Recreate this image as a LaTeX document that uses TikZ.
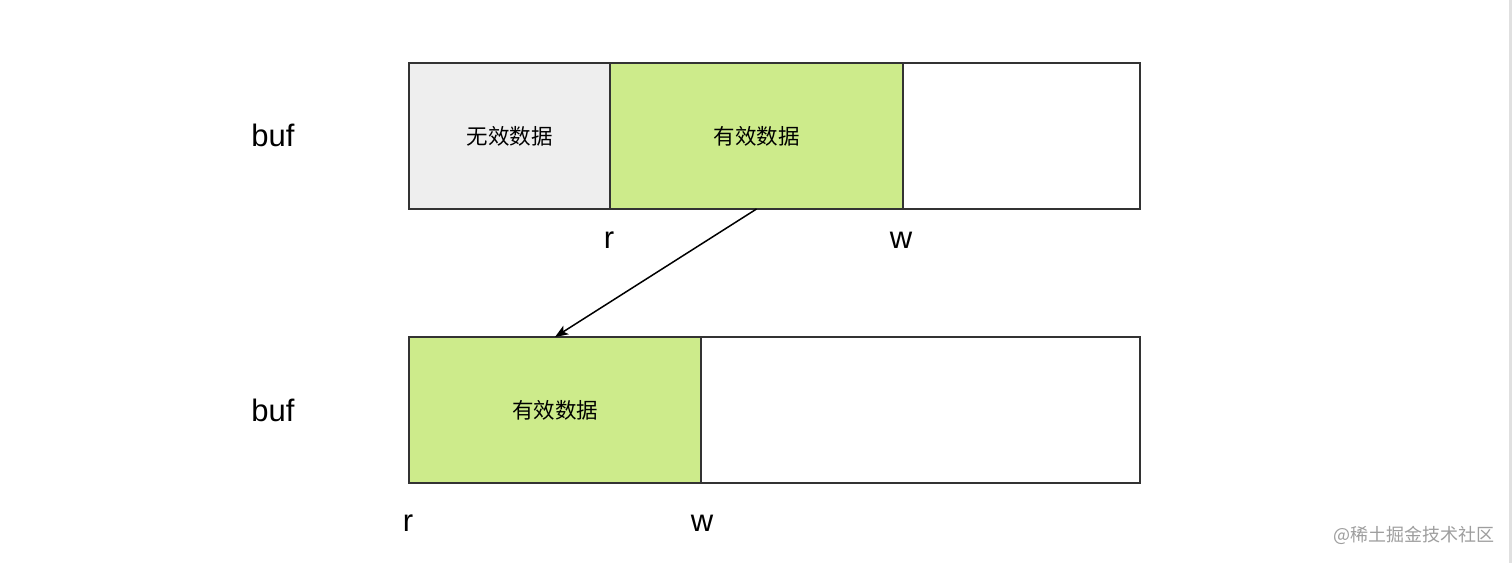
\documentclass[tikz,border=0pt]{standalone}
\usepackage{fontspec}
\setmainfont{Liberation Sans}
\newfontfamily\cjk{Noto Sans CJK SC}
\usetikzlibrary{
  arrows.meta, % For arrow tips
  positioning
}
\definecolor{validgreen}{HTML}{CDEB8B}
\definecolor{invalidgray}{HTML}{EEEEEE}
\definecolor{edgegray}{HTML}{333333}

\begin{document}
\begin{tikzpicture}[
      x=1pt, y=-1pt,
      >=Stealth, % Default arrow tip
      cell/.style={draw=edgegray, line width=1.5pt, anchor=north west, outer sep=0pt,
        minimum height=146pt, inner sep=0pt, font=\cjk\fontsize{21.5}{24}\selectfont},
      ptr/.style={font=\fontsize{31}{36}\selectfont, inner sep=0pt}, % r, w, buf
      move/.style={black, line width=1.5pt, -{Stealth[length=13pt, width=10pt, inset=3pt]}},
    ]

    % Rahmen
    \useasboundingbox[fill=white] (0,0) rectangle (1512,563);
    \fill[black!12] (1509,0) rectangle (1512,563);

    % Größen
    \def\wdead{201}
    \def\wlive{293}

    % buf vorher
    \node[cell, fill=invalidgray, minimum width=\wdead pt] (dead) at (409,63) {无效数据};
    \node[cell, fill=validgreen, minimum width=\wlive pt] (live) at (dead.north east) {有效数据};
    \node[cell, fill=white, minimum width=237pt] (free) at (live.north east) {};

    % buf nachher
    \node[cell, fill=validgreen, minimum width=292pt] (moved) at (409,337) {有效数据};
    \node[cell, fill=white, minimum width=439pt] (rest) at (moved.north east) {};

    % Beschriftungen
    \node[ptr] (buf1) at (273,135) {buf};
    \node[ptr] (buf2) at (273,410) {buf};
    \node[ptr] (r1) at (609,240) {r};
    \node[ptr] (w1) at (901,240) {w};
    \node[ptr] (r2) at (408,523) {r};
    \node[ptr] (w2) at (702,523) {w};

    % Verschiebung
    \draw[move] (live.south) -- (moved.north);

    \node[text=black!38, font=\cjk\fontsize{18}{20}\selectfont, inner sep=0pt] (mark) at (1414,535) {@稀土掘金技术社区};
  \end{tikzpicture}
\end{document}
